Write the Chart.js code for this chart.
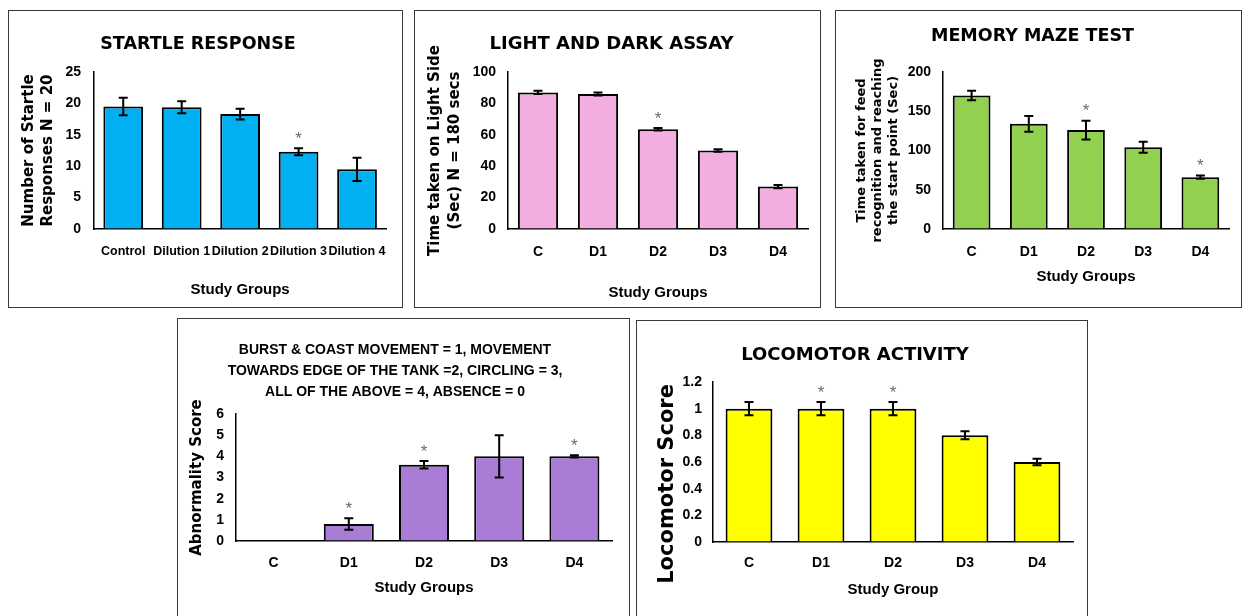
<!DOCTYPE html>
<html>
<head>
<meta charset="utf-8">
<script src="https://cdn.jsdelivr.net/npm/chart.js@4.4.1/dist/chart.umd.min.js"></script>
<style>
  html, body { margin: 0; padding: 0; background: #fff; overflow: hidden; }
  body { width: 1243px; height: 616px; position: relative; }
  .panel { position: absolute; border: 1px solid #3a3a3a; background: #fff; }
  .panel canvas { display: block; }
</style>
</head>
<body>
<div class="panel" id="p1"><canvas id="c1"></canvas></div>
<div class="panel" id="p2"><canvas id="c2"></canvas></div>
<div class="panel" id="p3"><canvas id="c3"></canvas></div>
<div class="panel" id="p4"><canvas id="c4"></canvas></div>
<div class="panel" id="p5"><canvas id="c5"></canvas></div>
<script>
// groups
const startleGroups = ['Control', 'Dilution 1', 'Dilution 2', 'Dilution 3', 'Dilution 4'];
const shortGroups = ['C', 'D1', 'D2', 'D3', 'D4'];

// startle response
const startleMeans = [19.5, 19.4, 18.3, 12.3, 9.5];
const startleErrors = [1.4, 0.95, 0.85, 0.55, 1.85];
const startleStars = [false, false, false, true, false];

// light and dark assay
const lightMeans = [87, 86, 63.5, 50, 27];
const lightErrors = [1, 1, 0.8, 0.8, 1];
const lightStars = [false, false, true, false, false];

// memory maze
const mazeMeans = [170, 134, 126, 104, 66];
const mazeErrors = [6, 10, 12, 7, 2];
const mazeStars = [false, false, true, false, true];

// abnormality score
const abnormalMeans = [0, 0.8, 3.6, 4, 4];
const abnormalErrors = [0, 0.27, 0.18, 1, 0.05];
const abnormalStars = [false, true, true, false, true];

// locomotor activity
const locoMeans = [1, 1, 1, 0.8, 0.6];
const locoErrors = [0.05, 0.05, 0.05, 0.03, 0.025];
const locoStars = [false, true, true, false, false];

const HEAVY = "'DejaVu Sans', Arial, sans-serif";
const ARIAL = "'Liberation Sans', Arial, sans-serif";

// draws the error bars and the significance stars
const errorBars = {
  id: 'errorBars',
  afterDatasetsDraw(chart, args, opts) {
    const ctx = chart.ctx;
    const y = chart.scales.y;
    const means = chart.data.datasets[0].data;
    const meta = chart.getDatasetMeta(0);
    ctx.save();
    meta.data.forEach((bar, i) => {
      const v = means[i], e = opts.errors[i];
      const top = y.getPixelForValue(v + e);
      const bot = y.getPixelForValue(v - e);
      if (e > 0) {
        ctx.strokeStyle = '#000';
        ctx.lineWidth = 2;
        ctx.beginPath();
        ctx.moveTo(bar.x, top); ctx.lineTo(bar.x, bot);
        ctx.moveTo(bar.x - 4.5, top); ctx.lineTo(bar.x + 4.5, top);
        ctx.moveTo(bar.x - 4.5, bot); ctx.lineTo(bar.x + 4.5, bot);
        ctx.stroke();
      }
      if (opts.stars[i]) {
        ctx.fillStyle = '#6a6a6a';
        ctx.font = "17px " + ARIAL;
        ctx.textAlign = 'center';
        ctx.textBaseline = 'middle';
        ctx.fillText('*', bar.x, top - 9);
      }
    });
    ctx.restore();
  }
};

function makePanel(p) {
  const div = document.getElementById(p.div);
  div.style.left = p.box[0] + 'px';
  div.style.top = p.box[1] + 'px';
  div.style.width = (p.box[2] - 2) + 'px';
  div.style.height = (p.box[3] - 2) + 'px';
  const canvas = document.getElementById(p.canvas);
  canvas.width = p.box[2] - 2;
  canvas.height = p.box[3] - 2;

  new Chart(canvas, {
    type: 'bar',
    data: {
      labels: p.labels,
      datasets: [{
        data: p.means,
        backgroundColor: p.color,
        borderColor: '#000',
        borderWidth: 2,
        borderSkipped: 'bottom',
        categoryPercentage: 1,
        barPercentage: p.barPct
      }]
    },
    options: {
      responsive: false,
      animation: false,
      devicePixelRatio: 1,
      layout: { padding: { left: 0, top: 0, right: p.padRight, bottom: 0 } },
      plugins: {
        legend: { display: false },
        tooltip: { enabled: false },
        title: {
          display: true,
          text: p.title,
          color: '#000',
          font: { family: p.titleFamily || HEAVY, size: p.titleSize, weight: 'bold', lineHeight: p.titleLH || 1.2 },
          padding: { top: p.titlePad[0], bottom: p.titlePad[1] }
        },
        errorBars: { errors: p.errors, stars: p.stars }
      },
      scales: {
        x: {
          grid: { display: true, drawOnChartArea: false, drawTicks: false },
          border: { display: true, color: '#000', width: 1.5 },
          ticks: {
            color: '#000', padding: p.xTickPad, autoSkip: false, maxRotation: 0, minRotation: 0,
            font: { family: ARIAL, size: p.xTickSize || 14, weight: 'bold', lineHeight: 1.2 }
          },
          title: {
            display: true, text: p.xTitle, color: '#000',
            font: { family: ARIAL, size: 15, weight: 'bold', lineHeight: 1.2 },
            padding: { top: 0, bottom: p.xTitlePad }
          },
          afterFit: s => { s.height = p.xHeight; }
        },
        y: {
          min: 0, max: p.yMax,
          grid: { display: true, drawOnChartArea: false, drawTicks: false },
          border: { display: true, color: '#000', width: 1.5 },
          ticks: {
            stepSize: p.yStep, color: '#000', padding: p.yTickPad,
            font: { family: ARIAL, size: 14, weight: 'bold' },
            callback: v => String(+v.toFixed(1))
          },
          title: {
            display: true, text: p.yTitle, color: '#000',
            font: { family: HEAVY, size: p.yTitleSize, weight: 'bold', lineHeight: p.yTitleLH },
            padding: { top: p.yTitlePad, bottom: 0 }
          },
          afterFit: s => { s.width = p.yWidth; }
        }
      }
    },
    plugins: [errorBars]
  });
}

makePanel({
  div: 'p1', canvas: 'c1', box: [8, 10, 395, 298],
  labels: startleGroups, means: startleMeans, errors: startleErrors, stars: startleStars,
  color: '#00B0F0', barPct: 0.68,
  title: 'STARTLE RESPONSE', titleSize: 17.5, titlePad: [22.5, 17.5],
  yTitle: ['Number of Startle', 'Responses N = 20'], yTitleSize: 15, yTitleLH: 1.27, yTitlePad: 10.5,
  yWidth: 85, yMax: 25, yStep: 5, yTickPad: 13,
  xTitle: 'Study Groups', xTickPad: 15, xTickSize: 12.5, xTitlePad: 8, xHeight: 78, padRight: 15
});

makePanel({
  div: 'p2', canvas: 'c2', box: [414, 10, 407, 298],
  labels: shortGroups, means: lightMeans, errors: lightErrors, stars: lightStars,
  color: '#F2AEDE', barPct: 0.67,
  title: 'LIGHT AND DARK ASSAY', titleSize: 18, titlePad: [22.2, 17.2],
  yTitle: ['Time taken on Light Side', '(Sec) N = 180 secs'], yTitleSize: 15, yTitleLH: 1.33, yTitlePad: 10,
  yWidth: 93, yMax: 100, yStep: 20, yTickPad: 12,
  xTitle: 'Study Groups', xTickPad: 15, xTitlePad: 5, xHeight: 78, padRight: 12
});

makePanel({
  div: 'p3', canvas: 'c3', box: [835, 10, 407, 298],
  labels: shortGroups, means: mazeMeans, errors: mazeErrors, stars: mazeStars,
  color: '#92D050', barPct: 0.66,
  title: 'MEMORY MAZE TEST', titleSize: 17.5, titlePad: [14.5, 25.5],
  yTitle: ['Time taken for feed', 'recognition and reaching', 'the start point (Sec)'], yTitleSize: 13, yTitleLH: 1.23, yTitlePad: 18,
  yWidth: 107, yMax: 200, yStep: 50, yTickPad: 12,
  xTitle: 'Study Groups', xTickPad: 15, xTitlePad: 21, xHeight: 78, padRight: 12
});

makePanel({
  div: 'p4', canvas: 'c4', box: [177, 318, 453, 302],
  labels: shortGroups, means: abnormalMeans, errors: abnormalErrors, stars: abnormalStars,
  color: '#A97CD6', barPct: 0.665,
  title: ['BURST & COAST MOVEMENT = 1, MOVEMENT', 'TOWARDS EDGE OF THE TANK =2, CIRCLING = 3,', 'ALL OF THE ABOVE = 4, ABSENCE = 0'],
  titleFamily: ARIAL, titleSize: 14, titleLH: 1.5, titlePad: [20.5, 11.5],
  yTitle: 'Abnormality Score', yTitleSize: 15, yTitleLH: 1.2, yTitlePad: 10,
  yWidth: 58, yMax: 6, yStep: 1, yTickPad: 12,
  xTitle: 'Study Groups', xTickPad: 14, xTitlePad: 22, xHeight: 78, padRight: 17
});

makePanel({
  div: 'p5', canvas: 'c5', box: [636, 320, 452, 302],
  labels: shortGroups, means: locoMeans, errors: locoErrors, stars: locoStars,
  color: '#FFFF00', barPct: 0.65,
  title: 'LOCOMOTOR ACTIVITY', titleSize: 18, titlePad: [23.2, 16.2],
  yTitle: 'Locomotor Score      ', yTitleSize: 21, yTitleLH: 1.2, yTitlePad: 18,
  yWidth: 76, yMax: 1.2, yStep: 0.2, yTickPad: 11,
  xTitle: 'Study Group', xTickPad: 13, xTitlePad: 22, xHeight: 79, padRight: 14
});
</script>
</body>
</html>
